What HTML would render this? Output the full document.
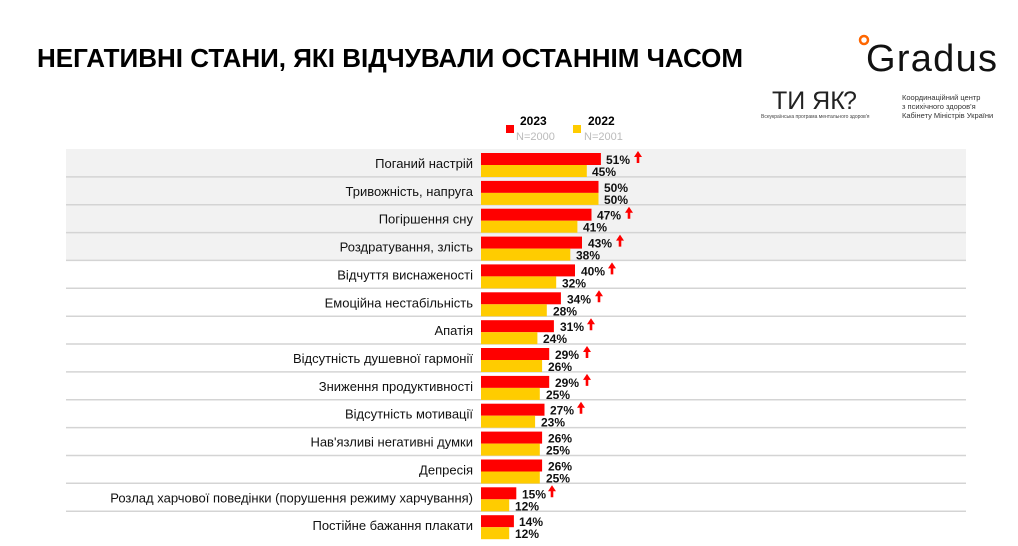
<!DOCTYPE html><html><head><meta charset="utf-8"><style>body{margin:0;background:#fff}svg{display:block}text{font-family:"Liberation Sans",sans-serif}</style></head><body>
<svg width="1018" height="546" viewBox="0 0 1018 546" xmlns="http://www.w3.org/2000/svg">
<defs><g id="ar"><path d="M0,-9 L4,-3 L1.3,-3 L1.3,3 L-1.3,3 L-1.3,-3 L-4,-3 Z" fill="#f00"/></g></defs>
<text x="37" y="67" font-size="26" font-weight="bold" textLength="706" fill="#000">НЕГАТИВНІ СТАНИ, ЯКІ ВІДЧУВАЛИ ОСТАННІМ ЧАСОМ</text>
<circle cx="864" cy="40" r="4" fill="none" stroke="#f60" stroke-width="2.5"/>
<text x="866" y="71" font-size="38" fill="#111" textLength="131">Gradus</text>
<text x="772" y="109" font-size="25" fill="#222">ТИ ЯК</text>
<text x="843" y="109" font-size="25" fill="#222">?</text>
<text x="761" y="118" font-size="5" fill="#444">Всеукраїнська програма ментального здоров'я</text>
<text x="902" y="100" font-size="7.5" fill="#333">Координаційний центр</text>
<text x="902" y="109" font-size="7.5" fill="#333">з психічного здоров'я</text>
<text x="902" y="118" font-size="7.5" fill="#333">Кабінету Міністрів України</text>
<rect x="506" y="125" width="8" height="8" fill="#f00"/>
<text x="520" y="125" font-size="12" font-weight="bold">2023</text>
<text x="516" y="140" font-size="11" fill="#bbb">N=2000</text>
<rect x="573" y="125" width="8" height="8" fill="#fc0"/>
<text x="588" y="125" font-size="12" font-weight="bold">2022</text>
<text x="584" y="140" font-size="11" fill="#bbb">N=2001</text>
<rect x="66" y="149" width="900" height="111.5" fill="#f2f2f2"/>
<g stroke="#d4d4d4" stroke-width="1.5">
<line x1="66" x2="966" y1="176.9" y2="176.9"/><line x1="66" x2="966" y1="204.7" y2="204.7"/><line x1="66" x2="966" y1="232.6" y2="232.6"/><line x1="66" x2="966" y1="260.4" y2="260.4"/><line x1="66" x2="966" y1="288.3" y2="288.3"/><line x1="66" x2="966" y1="316.2" y2="316.2"/><line x1="66" x2="966" y1="344" y2="344"/><line x1="66" x2="966" y1="371.9" y2="371.9"/><line x1="66" x2="966" y1="399.7" y2="399.7"/><line x1="66" x2="966" y1="427.6" y2="427.6"/><line x1="66" x2="966" y1="455.5" y2="455.5"/><line x1="66" x2="966" y1="483.3" y2="483.3"/><line x1="66" x2="966" y1="511.2" y2="511.2"/>
</g>
<g font-size="13" text-anchor="end" fill="#111">
<text x="473" y="168">Поганий настрій</text>
<text x="473" y="195.9">Тривожність, напруга</text>
<text x="473" y="223.7">Погіршення сну</text>
<text x="473" y="251.6">Роздратування, злість</text>
<text x="473" y="279.4">Відчуття виснаженості</text>
<text x="473" y="307.3">Емоційна нестабільність</text>
<text x="473" y="335.2">Апатія</text>
<text x="473" y="363">Відсутність душевної гармонії</text>
<text x="473" y="390.9">Зниження продуктивності</text>
<text x="473" y="418.7">Відсутність мотивації</text>
<text x="473" y="446.6">Нав'язливі негативні думки</text>
<text x="473" y="474.5">Депресія</text>
<text x="473" y="502.3">Розлад харчової поведінки (порушення режиму харчування)</text>
<text x="473" y="530.2">Постійне бажання плакати</text>
</g>
<g font-size="12" font-weight="bold" fill="#111">
<g transform="translate(0,149)"><rect x="481" y="4" width="119.9" height="12" fill="#f00"/><rect x="481" y="16" width="105.8" height="12" fill="#fc0"/><text x="606" y="15">51%</text><text x="592" y="27">45%</text><use href="#ar" x="638" y="11"/></g>
<g transform="translate(0,176.9)"><rect x="481" y="4" width="117.5" height="12" fill="#f00"/><rect x="481" y="16" width="117.5" height="12" fill="#fc0"/><text x="604" y="15">50%</text><text x="604" y="27">50%</text></g>
<g transform="translate(0,204.7)"><rect x="481" y="4" width="110.5" height="12" fill="#f00"/><rect x="481" y="16" width="96.4" height="12" fill="#fc0"/><text x="597" y="15">47%</text><text x="583" y="27">41%</text><use href="#ar" x="629" y="11"/></g>
<g transform="translate(0,232.6)"><rect x="481" y="4" width="101" height="12" fill="#f00"/><rect x="481" y="16" width="89.3" height="12" fill="#fc0"/><text x="588" y="15">43%</text><text x="576" y="27">38%</text><use href="#ar" x="620" y="11"/></g>
<g transform="translate(0,260.4)"><rect x="481" y="4" width="94" height="12" fill="#f00"/><rect x="481" y="16" width="75.2" height="12" fill="#fc0"/><text x="581" y="15">40%</text><text x="562" y="27">32%</text><use href="#ar" x="612" y="11"/></g>
<g transform="translate(0,288.3)"><rect x="481" y="4" width="79.9" height="12" fill="#f00"/><rect x="481" y="16" width="65.8" height="12" fill="#fc0"/><text x="567" y="15">34%</text><text x="553" y="27">28%</text><use href="#ar" x="599" y="11"/></g>
<g transform="translate(0,316.2)"><rect x="481" y="4" width="72.9" height="12" fill="#f00"/><rect x="481" y="16" width="56.4" height="12" fill="#fc0"/><text x="560" y="15">31%</text><text x="543" y="27">24%</text><use href="#ar" x="591" y="11"/></g>
<g transform="translate(0,344)"><rect x="481" y="4" width="68.2" height="12" fill="#f00"/><rect x="481" y="16" width="61.1" height="12" fill="#fc0"/><text x="555" y="15">29%</text><text x="548" y="27">26%</text><use href="#ar" x="587" y="11"/></g>
<g transform="translate(0,371.9)"><rect x="481" y="4" width="68.2" height="12" fill="#f00"/><rect x="481" y="16" width="58.8" height="12" fill="#fc0"/><text x="555" y="15">29%</text><text x="546" y="27">25%</text><use href="#ar" x="587" y="11"/></g>
<g transform="translate(0,399.7)"><rect x="481" y="4" width="63.5" height="12" fill="#f00"/><rect x="481" y="16" width="54.1" height="12" fill="#fc0"/><text x="550" y="15">27%</text><text x="541" y="27">23%</text><use href="#ar" x="581" y="11"/></g>
<g transform="translate(0,427.6)"><rect x="481" y="4" width="61.1" height="12" fill="#f00"/><rect x="481" y="16" width="58.8" height="12" fill="#fc0"/><text x="548" y="15">26%</text><text x="546" y="27">25%</text></g>
<g transform="translate(0,455.5)"><rect x="481" y="4" width="61.1" height="12" fill="#f00"/><rect x="481" y="16" width="58.8" height="12" fill="#fc0"/><text x="548" y="15">26%</text><text x="546" y="27">25%</text></g>
<g transform="translate(0,483.3)"><rect x="481" y="4" width="35.3" height="12" fill="#f00"/><rect x="481" y="16" width="28.2" height="12" fill="#fc0"/><text x="522" y="15">15%</text><text x="515" y="27">12%</text><use href="#ar" x="552" y="11"/></g>
<g transform="translate(0,511.2)"><rect x="481" y="4" width="32.9" height="12" fill="#f00"/><rect x="481" y="16" width="28.2" height="12" fill="#fc0"/><text x="519" y="15">14%</text><text x="515" y="27">12%</text></g>
</g>
</svg>
</body></html>
